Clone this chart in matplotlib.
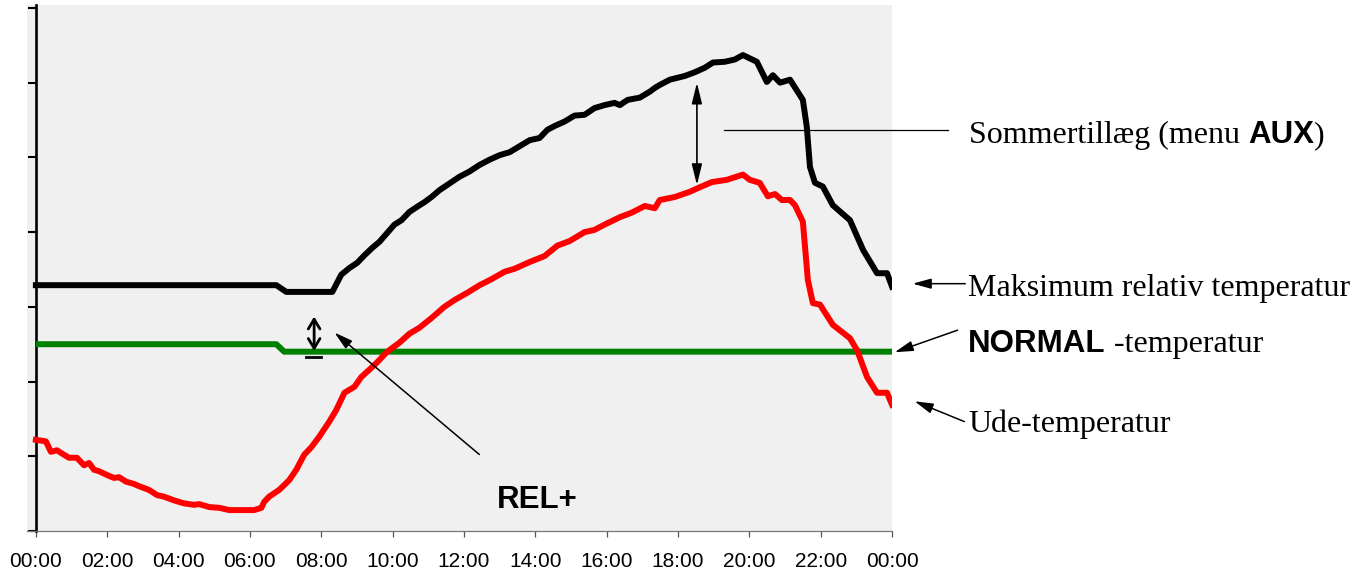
import matplotlib.pyplot as plt
import numpy as np

# --- data (hours, relative temperature units) ---
ude_h = [0.00, 0.28, 0.42, 0.59, 0.79, 0.93, 1.15, 1.35, 1.49, 1.63, 1.77, 1.99,
         2.19, 2.33, 2.53, 2.75, 2.89, 3.17, 3.40, 3.59, 3.87, 4.15, 4.44, 4.58,
         4.86, 5.14, 5.42, 6.12, 6.32, 6.40, 6.54, 6.82, 7.10, 7.30, 7.52, 7.72,
         7.94, 8.22, 8.42, 8.65, 8.93, 9.12, 9.35, 9.57, 9.85, 10.19, 10.47, 10.75,
         11.09, 11.45, 11.73, 12.10, 12.44, 12.77, 13.14, 13.42, 13.84, 14.26, 14.62,
         14.96, 15.38, 15.66, 15.94, 16.37, 16.70, 17.07, 17.35, 17.49, 17.91, 18.33,
         18.61, 18.95, 19.37, 19.82, 20.01, 20.29, 20.52, 20.72, 20.91, 21.14, 21.28,
         21.50, 21.64, 21.78, 21.98, 22.34, 22.82, 23.02, 23.30, 23.58, 23.86, 24.00]
ude_v = [1.22, 1.20, 1.06, 1.08, 1.02, 0.98, 0.98, 0.88, 0.91, 0.82, 0.80, 0.75,
         0.71, 0.72, 0.66, 0.63, 0.60, 0.55, 0.48, 0.46, 0.41, 0.37, 0.35, 0.36,
         0.32, 0.31, 0.28, 0.28, 0.31, 0.39, 0.46, 0.55, 0.68, 0.82, 1.02, 1.12,
         1.26, 1.46, 1.62, 1.85, 1.93, 2.06, 2.16, 2.26, 2.40, 2.52, 2.64, 2.72,
         2.85, 3.00, 3.09, 3.19, 3.29, 3.37, 3.47, 3.51, 3.60, 3.68, 3.82,
         3.88, 4.00, 4.03, 4.10, 4.20, 4.26, 4.35, 4.32, 4.43, 4.47, 4.54,
         4.60, 4.67, 4.70, 4.77, 4.70, 4.66, 4.48, 4.51, 4.43, 4.43, 4.36,
         4.14, 3.36, 3.05, 3.03, 2.76, 2.58, 2.42, 2.06, 1.85, 1.85, 1.69]

maks_h = [0.00, 6.74, 7.02, 8.31, 8.56, 8.79, 9.01, 9.21, 9.43, 9.63, 9.85, 10.05,
          10.25, 10.47, 10.69, 10.89, 11.09, 11.31, 11.59, 11.87, 12.15, 12.44,
          12.72, 13.00, 13.28, 13.56, 13.84, 14.12, 14.34, 14.54, 14.82, 15.10,
          15.38, 15.66, 15.94, 16.22, 16.37, 16.59, 16.93, 17.21, 17.35, 17.49,
          17.77, 18.19, 18.47, 18.75, 18.98, 19.31, 19.59, 19.82, 20.21, 20.49,
          20.66, 20.86, 21.14, 21.50, 21.61, 21.70, 21.84, 22.06, 22.34, 22.82,
          23.19, 23.58, 23.86, 24.00]
maks_v = [3.29, 3.29, 3.20, 3.20, 3.43, 3.52, 3.59, 3.69, 3.79, 3.87, 3.99, 4.10,
          4.16, 4.27, 4.34, 4.40, 4.47, 4.56, 4.65, 4.74, 4.81, 4.90,
          4.97, 5.03, 5.07, 5.15, 5.23, 5.26, 5.37, 5.42, 5.48, 5.56,
          5.57, 5.66, 5.70, 5.73, 5.70, 5.77, 5.80, 5.88, 5.93, 5.97,
          6.04, 6.09, 6.14, 6.20, 6.27, 6.28, 6.31, 6.37, 6.28, 6.01,
          6.10, 6.00, 6.04, 5.77, 5.41, 4.87, 4.66, 4.61, 4.36, 4.16,
          3.76, 3.45, 3.45, 3.27]

normal_h = [0.00, 6.74, 6.96, 24.00]
normal_v = [2.50, 2.50, 2.40, 2.40]

tick_hours = list(range(0, 25, 2))
tick_labels = ['%02d:00' % (h % 24) for h in tick_hours]

serif = 'Liberation Serif'
sans = 'Liberation Sans'

# --- setup ---
fig = plt.figure(figsize=(13.69, 5.73), dpi=100)
ax = fig.add_axes([0.0197, 0.0733, 0.6319, 0.918])
ax.set_facecolor('#f0f0f0')

ax.plot(normal_h, normal_v, color='#008000', lw=4.3, solid_capstyle='butt', zorder=3)
ax.plot(ude_h, ude_v, color='#ff0000', lw=4.3, solid_joinstyle='round', zorder=4)
ax.plot(maks_h, maks_v, color='black', lw=4.3, solid_joinstyle='round', zorder=5)

ax.set_xlim(-0.25, 24)
ax.set_ylim(0, 7.04)

for s in ['top', 'right']:
    ax.spines[s].set_visible(False)
ax.spines['left'].set_position(('data', 0))
ax.spines['left'].set_linewidth(1.9)
ax.spines['bottom'].set_color('#777777')
ax.spines['bottom'].set_linewidth(0.9)

ax.set_xticks(tick_hours)
ax.set_xticklabels(tick_labels, fontsize=15, family=sans)
ax.tick_params(axis='x', length=4, width=0.9, color='#555555', pad=11)
ax.set_yticks(range(0, 8))
ax.set_yticklabels([])
ax.tick_params(axis='y', length=6, width=1.5, color='black', direction='out')

# --- annotations ---
arrow_kw = dict(arrowstyle='-|>,head_length=0.8,head_width=0.22', lw=1.1,
                color='black', mutation_scale=14)
ax.annotate('', xy=(24.5, 3.31), xytext=(26.13, 3.31),
            arrowprops=arrow_kw, annotation_clip=False)
ax.annotate('', xy=(24.0, 2.38), xytext=(25.91, 2.70),
            arrowprops=arrow_kw, annotation_clip=False)
ax.annotate('', xy=(24.56, 1.75), xytext=(26.10, 1.45),
            arrowprops=arrow_kw, annotation_clip=False)
ax.annotate('', xy=(8.31, 2.68), xytext=(12.49, 1.00),
            arrowprops=arrow_kw, annotation_clip=False, zorder=6)

# summer supplement double arrow + leader line
ax.annotate('', xy=(18.53, 6.0), xytext=(18.53, 4.63),
            arrowprops=dict(arrowstyle='<|-|>,head_length=0.9,head_width=0.22',
                            lw=1.2, color='black', mutation_scale=14, shrinkA=0, shrinkB=0))
ax.plot([19.28, 25.57], [5.37, 5.37], color='black', lw=0.9, clip_on=False)

# REL+ double arrow with base bar
ax.annotate('', xy=(7.80, 2.87), xytext=(7.80, 2.41),
            arrowprops=dict(arrowstyle='<->,head_length=0.5,head_width=0.3',
                            lw=2.0, color='black', mutation_scale=14, shrinkA=0, shrinkB=0),
            zorder=6)
ax.plot([7.58, 8.0], [2.33, 2.33], color='black', lw=2.0, zorder=6)

renderer = fig.canvas.get_renderer()


def mixed_text(x, y, parts):
    # parts: list of (string, family, weight); laid out along one baseline
    off = 0.0
    for s, fam, wt in parts:
        t = ax.annotate(s, xy=(x, y), xytext=(off, 0), textcoords='offset pixels',
                        family=fam, weight=wt, fontsize=23 if fam == serif else 22.5,
                        va='baseline', ha='left', annotation_clip=False)
        off += t.get_window_extent(renderer).width


mixed_text(26.16, 5.19, [('Sommertillæg (menu ', serif, 'normal'),
                         ('AUX', sans, 'bold'), (')', serif, 'normal')])
mixed_text(26.13, 3.15, [('Maksimum relativ temperatur', serif, 'normal')])
mixed_text(26.13, 2.40, [('NORMAL', sans, 'bold'), (' -temperatur', serif, 'normal')])
mixed_text(26.13, 1.33, [('Ude-temperatur', serif, 'normal')])
mixed_text(12.91, 0.31, [('REL+', sans, 'bold')])

fig.savefig('out.png', dpi=100)
